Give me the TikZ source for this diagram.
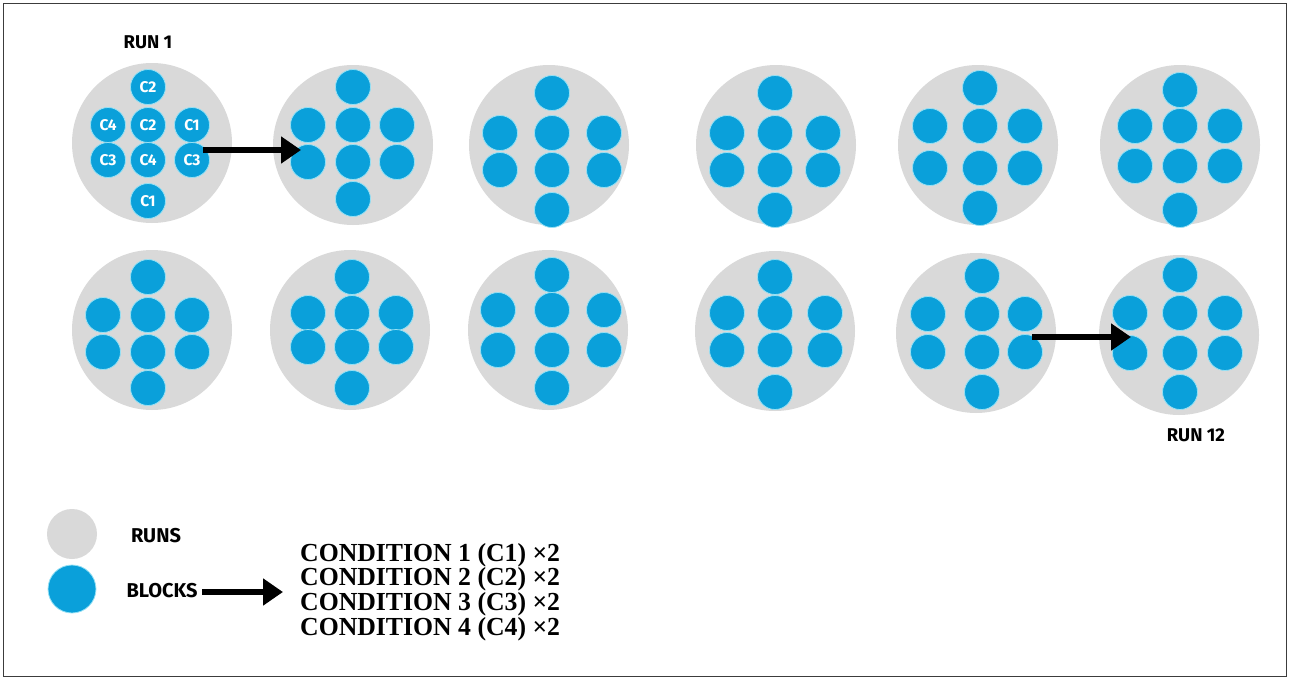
\documentclass[tikz,border=0pt]{standalone}
\usepackage{fontspec}
\newfontfamily\lblfont{Fira Sans}
\newfontfamily\condfont[FakeStretch=0.99]{Liberation Serif}
\usetikzlibrary{arrows.meta}
\definecolor{rungray}{RGB}{217,217,217}
\definecolor{blockblue}{RGB}{10,160,218}
\definecolor{halo}{RGB}{150,225,245}
\definecolor{framegray}{RGB}{60,60,60}
\tikzset{
  runcirc/.style={circle,fill=rungray,minimum size=160pt,inner sep=0pt},
  blockdot/.style={circle,fill=blockblue,draw=halo,line width=0.8pt,minimum size=35pt,inner sep=0pt},
  dotlbl/.style={text=white,font=\lblfont\bfseries\fontsize{15.5}{15.5}\selectfont,inner sep=0pt},
  runlbl/.style={text=black,font=\lblfont\bfseries\fontsize{18.5}{18.5}\selectfont,inner sep=0pt},
  leglbl/.style={text=black,font=\lblfont\bfseries\fontsize{20}{20}\selectfont,inner sep=0pt},
  condlbl/.style={text=black,font=\condfont\bfseries\fontsize{26}{26}\selectfont,inner sep=0pt,anchor=base west},
  bigarrow/.style={line width=6pt,-{Triangle[length=20pt,width=26pt]}}
}
\newcommand\drawrun[9]{%
  \node[runcirc] (#1) at (#2) {};
  \node[blockdot] (#1-t) at (#8,#3) {};
  \node[blockdot] (#1-al) at (#7,#4) {};
  \node[blockdot] (#1-am) at (#8,#4) {};
  \node[blockdot] (#1-ar) at (#9,#4) {};
  \node[blockdot] (#1-bl) at (#7,#5) {};
  \node[blockdot] (#1-bm) at (#8,#5) {};
  \node[blockdot] (#1-br) at (#9,#5) {};
  \node[blockdot] (#1-d) at (#8,#6) {};
}
\begin{document}
\begin{tikzpicture}[x=1pt,y=-1pt]
\useasboundingbox (0,0) rectangle (1290,680);
\fill[white] (0,0) rectangle (1290,680);
\draw[framegray,line width=1.5pt] (3.5,3.5) rectangle (1286.5,676.5);

% row 1
\drawrun{ra}{152,143}{87}{125}{160}{201}{108}{148}{192}
\drawrun{rb}{353,145}{87}{125}{162}{199}{308}{353}{397}
\drawrun{rc}{549,145}{93}{133}{170}{210}{500}{552}{604}
\drawrun{rd}{776,145}{93}{133}{170}{210}{727}{775}{823}
\drawrun{re}{978,145}{88}{126}{168}{208}{930}{980}{1025}
\drawrun{rf}{1180,145}{90}{126}{166}{210}{1135}{1180}{1225}
% row 2
\drawrun{sa}{152,330}{277}{315}{352}{388}{103}{148}{192}
\drawrun{sb}{350,330}{277}{313}{347}{388}{308}{352}{396}
\drawrun{sc}{548,330}{275}{310}{350}{388}{498}{552}{604}
\drawrun{sd}{775,331}{277}{313}{350}{392}{727}{775}{825}
\drawrun{se}{976,333}{276}{314}{352}{392}{928}{982}{1025}
\drawrun{sf}{1179,335}{275}{313}{353}{392}{1130}{1180}{1225}

% labels in run 1
\node[dotlbl] (l1) at (ra-t) {C2};
\node[dotlbl] (l2) at (ra-al) {C4};
\node[dotlbl] (l3) at (ra-am) {C2};
\node[dotlbl] (l4) at (ra-ar) {C1};
\node[dotlbl] (l5) at (ra-bl) {C3};
\node[dotlbl] (l6) at (ra-bm) {C4};
\node[dotlbl] (l7) at (ra-br) {C3};
\node[dotlbl] (l8) at (ra-d) {C1};

\node[runlbl] (run1) at (148,42) {RUN 1};
\node[runlbl] (run12) at (1196,435) {RUN 12};

% arrows
\coordinate (a1s) at (203,150);
\coordinate (a1e) at (301,150);
\draw[bigarrow] (a1s) -- (a1e);
\coordinate (a2s) at (1032,337);
\coordinate (a2e) at (1131,337);
\draw[bigarrow] (a2s) -- (a2e);

% legend
\node[circle,fill=rungray,minimum width=50pt,minimum height=49pt,inner sep=0pt] (lgrun) at (72,534) {};
\node[circle,fill=blockblue,draw=halo,line width=0.8pt,minimum size=48pt,inner sep=0pt] (lgblock) at (72,589) {};
\node[leglbl] (lgruntxt) at (156,536) {RUNS};
\node[leglbl] (lgblocktxt) at (162,591) {BLOCKS};
\coordinate (a3s) at (202,592);
\coordinate (a3e) at (283,592);
\draw[bigarrow] (a3s) -- (a3e);
\node[condlbl] (cond1) at (300,561) {CONDITION 1 (C1) ×2};
\node[condlbl] (cond2) at (300,585.7) {CONDITION 2 (C2) ×2};
\node[condlbl] (cond3) at (300,610.4) {CONDITION 3 (C3) ×2};
\node[condlbl] (cond4) at (300,635) {CONDITION 4 (C4) ×2};
\end{tikzpicture}
\end{document}
